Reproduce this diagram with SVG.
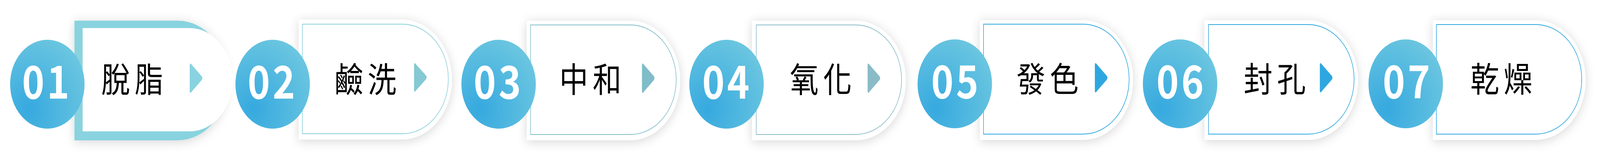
<svg xmlns="http://www.w3.org/2000/svg" width="4900" height="413" viewBox="0 0 4900 413" preserveAspectRatio="none">
<defs>
<filter id="sh" x="-20%" y="-40%" width="140%" height="180%">
<feDropShadow dx="0" dy="4" stdDeviation="14" flood-color="#000" flood-opacity="0.16"/>
</filter>
<radialGradient id="cg" cx="0.25" cy="0.78" r="0.9" fx="0.25" fy="0.78">
<stop offset="0" stop-color="#36A9DF"/>
<stop offset="1" stop-color="#6DC7E0"/>
</radialGradient>
</defs>
<style>
:root{width:100vw;height:100vh;display:block}
.circ{fill:url(#cg)}
.outer{fill:#fff;filter:url(#sh)}
.inner{fill:#fff;stroke-width:1.8}
.num{font-family:"Noto Sans CJK TC","Noto Sans",sans-serif;font-weight:700;font-size:116px;fill:#fff;text-anchor:middle;letter-spacing:8px}
.lbl{font-family:"Noto Sans CJK TC","Noto Sans CJK SC",sans-serif;font-weight:400;font-size:88px;fill:#000;text-anchor:middle;letter-spacing:14px}
</style>
<rect width="4900" height="413" fill="#fff"/>
<g id="connectors"/>
<g id="step01">
<path d="M228 53H544.5A153.5 153.5 0 0 1 544.5 360H228Z" fill="#88D3DF" filter="url(#sh)"/>
<path d="M253 72H580.5A132.5 132.5 0 0 1 580.5 337H253Z" fill="#fff"/>
<path d="M581 169Q581 158 588 167L617 195Q622 200.5 617 206L588 234Q581 243 581 232Z" fill="#88D3DF"/>
<circle class="circ" cx="145" cy="216" r="114"/>
<text class="num" x="144" y="253">01</text>
<text class="lbl" x="412" y="236">脫脂</text>
</g>
<g id="step02">
<path class="outer" d="M915 50H1230A154 154 0 0 1 1230 358H915Z"/>
<path class="inner" stroke="#8ACFDB" d="M926 62H1232.5A140.5 140.5 0 0 1 1232.5 343H926Z"/>
<path d="M1268 168Q1268 157 1275 166L1304 193Q1309 198.5 1304 204L1275 231Q1268 240 1268 229Z" fill="#84C9D3"/>
<circle class="circ" cx="835" cy="216" r="114"/>
<text class="num" x="835" y="253">02</text>
<text class="lbl" x="1126" y="236">鹼洗</text>
</g>
<g id="step03">
<path class="outer" d="M1613 53H1929.5A153.5 153.5 0 0 1 1929.5 360H1613Z"/>
<path class="inner" stroke="#80BEC8" d="M1625 64H1930.5A140.5 140.5 0 0 1 1930.5 345H1625Z"/>
<path d="M1966 169Q1966 158 1973 167L2002 195Q2007 200.5 2002 206L1973 234Q1966 243 1966 232Z" fill="#7FBDC8"/>
<circle class="circ" cx="1527" cy="216" r="114"/>
<text class="num" x="1527" y="253">03</text>
<text class="lbl" x="1815" y="236">中和</text>
</g>
<g id="step04">
<path class="outer" d="M2303 53H2620.5A153.5 153.5 0 0 1 2620.5 360H2303Z"/>
<path class="inner" stroke="#8BBCC8" d="M2316 64H2620.5A140.5 140.5 0 0 1 2620.5 345H2316Z"/>
<path d="M2657 169Q2657 158 2664 167L2693 195Q2698 200.5 2693 206L2664 234Q2657 243 2657 232Z" fill="#8ABCC7"/>
<circle class="circ" cx="2225" cy="216" r="114"/>
<text class="num" x="2227" y="253">04</text>
<text class="lbl" x="2521" y="236">氧化</text>
</g>
<g id="step05">
<path class="outer" d="M3001 52H3316.5A153.5 153.5 0 0 1 3316.5 359H3001Z"/>
<path class="inner" stroke="#2EA7E0" d="M3012 62H3317A141 141 0 0 1 3317 344H3012Z"/>
<path d="M3353 168Q3353 157 3360 166L3389 194Q3394 199.5 3389 205L3360 233Q3353 242 3353 231Z" fill="#2EA7E0"/>
<circle class="circ" cx="2924" cy="215" r="114"/>
<text class="num" x="2928" y="252">05</text>
<text class="lbl" x="3215" y="235">發色</text>
</g>
<g id="step06">
<path class="outer" d="M3689 52H4005.5A153.5 153.5 0 0 1 4005.5 359H3689Z"/>
<path class="inner" stroke="#2EA7E0" d="M3701 63H4006.5A140.5 140.5 0 0 1 4006.5 344H3701Z"/>
<path d="M4042 168Q4042 157 4049 166L4078 194Q4083 199.5 4078 205L4049 233Q4042 242 4042 231Z" fill="#2EA7E0"/>
<circle class="circ" cx="3614" cy="215" r="114"/>
<text class="num" x="3618" y="252">06</text>
<text class="lbl" x="3911" y="235">封孔</text>
</g>
<g id="step07">
<path class="outer" d="M4388 52H4702.5A153.5 153.5 0 0 1 4702.5 359H4388Z"/>
<path class="inner" stroke="#2EA7E0" d="M4399 63H4703.5A140.5 140.5 0 0 1 4703.5 344H4399Z"/>
<circle class="circ" cx="4305" cy="215" r="114"/>
<text class="num" x="4311" y="252">07</text>
<text class="lbl" x="4605" y="235">乾燥</text>
</g>
</svg>
